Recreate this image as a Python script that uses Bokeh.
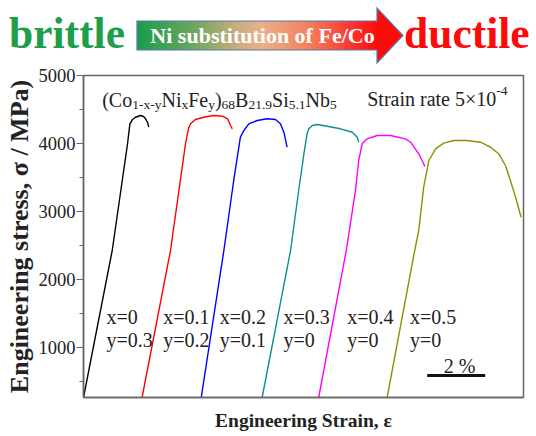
import numpy as np
from bokeh.plotting import figure
from bokeh.layouts import column
from bokeh.models import Range1d, FixedTicker, Div
from bokeh.core.properties import value
from bokeh.embed import file_html
from bokeh.resources import INLINE

# ---------------- data (strain in %, stress in MPa) ----------------
strain_a = [0.00, 0.99, 1.52, 1.60, 1.69, 1.79, 1.97, 2.07, 2.14, 2.21, 2.25]
stress_a = [270, 2429, 4001, 4290, 4354, 4387, 4412, 4398, 4364, 4310, 4241]

strain_b = [2.02, 3.00, 3.52, 3.62, 3.69, 3.86, 4.14, 4.48, 4.79, 4.97, 5.07, 5.13]
stress_b = [270, 2429, 4005, 4221, 4290, 4354, 4387, 4412, 4402, 4364, 4266, 4217]

strain_c = [4.06, 4.84, 5.18, 5.41, 5.53, 5.70, 5.99, 6.33, 6.62, 6.79, 6.91, 7.02]
stress_c = [270, 2429, 3458, 4094, 4192, 4290, 4339, 4364, 4354, 4290, 4167, 3947]

strain_d = [6.16, 7.14, 7.42, 7.60, 7.71, 7.77, 7.89, 8.06, 8.40, 8.86, 9.27, 9.44, 9.49]
stress_d = [270, 2429, 3311, 3850, 4144, 4217, 4266, 4280, 4255, 4217, 4167, 4094, 4020]

strain_e = [8.11, 9.06, 9.38, 9.49, 9.61, 9.78, 10.13, 10.59, 11.10, 11.28, 11.56, 11.73, 11.77]
stress_e = [270, 2429, 3311, 3751, 3997, 4070, 4119, 4119, 4070, 4020, 3850, 3703, 3663]

strain_f = [10.47, 11.42, 11.56, 11.73, 11.91, 12.14, 12.42, 12.77, 13.23, 13.69, 14.03, 14.32, 14.55, 14.72, 14.90, 15.09]
stress_f = [270, 2429, 2723, 3359, 3751, 3923, 4006, 4045, 4045, 4020, 3947, 3850, 3678, 3458, 3212, 2918]

x_labels = ["x=0", "x=0.1", "x=0.2", "x=0.3", "x=0.4", "x=0.5"]
y_labels = ["y=0.3", "y=0.2", "y=0.1", "y=0", "y=0", "y=0"]
series_colors = ["#000000", "#ff0000", "#0000ff", "#0e8f8f", "#ff00ff", "#8f8f00"]

y_ticks = [1000, 2000, 3000, 4000, 5000]
y_minor = [500, 1500, 2500, 3500, 4500]

header_left = "brittle"
header_mid = "Ni substitution of Fe/Co"
header_right = "ductile"

# ---------------- layout helpers (page pixels -> data) ----------------
HEADER_H = 64
PX_PER_PCT = 29.0
FRAME_L, FRAME_R, FRAME_T, FRAME_B = 83, 523, 75, 397
XMAX = (FRAME_R - FRAME_L) / PX_PER_PCT
YMIN, YMAX = 270, 5000
MPA_PER_PX = (YMAX - YMIN) / (FRAME_B - FRAME_T)


def dx(px):
    return (px - FRAME_L) / PX_PER_PCT


def dy(py):
    return YMAX - (py - FRAME_T) * MPA_PER_PX


SERIF = value("Liberation Serif")
W = {"(": 333, ")": 333, "C": 667, "o": 500, "N": 722, "i": 278, "F": 556, "e": 444,
     "B": 667, "S": 556, "b": 500, "-": 333, "x": 500, "y": 500, ".": 250, " ": 250,
     "t": 278, "r": 333, "a": 444, "n": 500, "\u00d7": 564}
for d in "0123456789":
    W[d] = 500


def tw(s, size):
    return sum(W.get(c, 500) for c in s) * size / 1000.0


# ---------------- header (HTML/SVG) ----------------
bl, br, bt, bb = 137, 377, 21, 50
ht, hb, tipx, tipy = 8, 63, 403, 35.5
pts = [(bl, bt), (br, bt), (br, ht), (tipx, tipy), (br, hb), (br, bb), (bl, bb)]
clip = ", ".join("%gpx %gpx" % (x - bl, y - ht) for x, y in pts)
poly = " ".join("%g,%g" % (x, y) for x, y in pts)
grad = ("linear-gradient(to right, #189c4c 0px, #6aa65e 55px, #c9ad80 100px, #eab08a 125px, "
        "#f3825e 170px, #f83a34 212px, #ff0a0a 240px, #ff0a0a 266px)")
fs = "font-family:'Liberation Serif','Times New Roman',serif;font-weight:bold;"
header_html = f"""
<div style="position:relative;width:536px;height:{HEADER_H}px;margin:0;padding:0;background:white;">
  <div style="position:absolute;left:{bl}px;top:{ht}px;width:{tipx - bl}px;height:{hb - ht}px;
       background:{grad};clip-path:polygon({clip});"></div>
  <svg style="position:absolute;left:0;top:0;" width="536" height="{HEADER_H}">
    <polygon points="{poly}" style="fill:none;stroke:#5b7ba6;stroke-width:1.2px;"/>
    <text x="262.5" y="42.5" style="{fs}font-size:22px;fill:#ffffff;text-anchor:middle;">{header_mid}</text>
    <text x="9" y="48" style="{fs}font-size:43.5px;fill:#1c9e4b;">{header_left}</text>
    <text x="404" y="48" style="{fs}font-size:43.5px;fill:#ff0a0a;">{header_right}</text>
  </svg>
</div>
"""
header = Div(text=header_html, width=536, height=HEADER_H, margin=0)

# ---------------- figure ----------------
p = figure(width=536, height=436 - HEADER_H, x_range=Range1d(0, XMAX), y_range=Range1d(YMIN, YMAX),
           output_backend="svg", toolbar_location=None, margin=0,
           min_border_left=FRAME_L, min_border_right=536 - FRAME_R,
           min_border_top=FRAME_T - HEADER_H, min_border_bottom=436 - FRAME_B)
p.xgrid.visible = False
p.ygrid.visible = False
p.outline_line_color = "#666666"
p.outline_line_width = 1.5

p.xaxis.ticker = FixedTicker(ticks=[])
p.xaxis.major_tick_out = 0
p.xaxis.major_tick_in = 0
p.xaxis.minor_tick_out = 0
p.xaxis.minor_tick_in = 0
p.xaxis.axis_line_color = "#666666"
p.xaxis.axis_line_width = 1.5
p.xaxis.axis_label = "Engineering Strain, \u03b5"
p.xaxis.axis_label_text_font = "Liberation Serif"
p.xaxis.axis_label_text_font_style = "bold"
p.xaxis.axis_label_text_font_size = "19.5px"
p.xaxis.axis_label_text_color = "#222222"
p.xaxis.axis_label_standoff = 12

p.yaxis.ticker = FixedTicker(ticks=y_ticks, minor_ticks=y_minor)
p.yaxis.major_tick_out = 7
p.yaxis.major_tick_in = 0
p.yaxis.minor_tick_out = 4
p.yaxis.minor_tick_in = 0
p.yaxis.major_tick_line_color = "#666666"
p.yaxis.minor_tick_line_color = "#666666"
p.yaxis.axis_line_color = "#666666"
p.yaxis.axis_line_width = 1.5
p.yaxis.major_label_text_font = "Liberation Serif"
p.yaxis.major_label_text_font_size = "18.5px"
p.yaxis.major_label_text_color = "#222222"
p.yaxis.major_label_standoff = 1
p.yaxis.axis_label = "Engineering stress, \u03c3 / MPa)"
p.yaxis.axis_label_text_font = "Liberation Serif"
p.yaxis.axis_label_text_font_style = "bold"
p.yaxis.axis_label_text_font_size = "26px"
p.yaxis.axis_label_text_color = "#222222"
p.yaxis.axis_label_standoff = 2

curves = [(strain_a, stress_a), (strain_b, stress_b), (strain_c, stress_c),
          (strain_d, stress_d), (strain_e, stress_e), (strain_f, stress_f)]
for (sx, sy), c in zip(curves, series_colors):
    p.line(sx, sy, line_color=c, line_width=1.4)

# composition labels
lab_px = [106, 162.7, 219.3, 283, 346.7, 409.5]
p.text(x=[dx(v) for v in lab_px], y=[dy(316.5)] * 6, text=x_labels, text_font=SERIF,
       text_font_size=value("20px"), text_color="#222222", text_align="left", text_baseline="alphabetic")
p.text(x=[dx(v) for v in lab_px], y=[dy(339.5)] * 6, text=y_labels, text_font=SERIF,
       text_font_size=value("20px"), text_color="#222222", text_align="left", text_baseline="alphabetic")

# formula with subscripts
F, S = 20.0, 13.5
segments = [("(Co", 0), ("1-x-y", 1), ("Ni", 0), ("x", 1), ("Fe", 0), ("y", 1), (")", 0), ("68", 1),
            ("B", 0), ("21.9", 1), ("Si", 0), ("5.1", 1), ("Nb", 0), ("5", 1)]
cur = 101.7
main_base, sub_base = 99.0, 104.0
mx, my, mt, sx_, sy_, st = [], [], [], [], [], []
for s, sub in segments:
    if sub:
        sx_.append(dx(cur)); sy_.append(dy(sub_base)); st.append(s)
        cur += tw(s, S)
    else:
        mx.append(dx(cur)); my.append(dy(main_base)); mt.append(s)
        cur += tw(s, F)
p.text(x=mx, y=my, text=mt, text_font=SERIF, text_font_size=value("20px"), text_color="#222222",
       text_align="left", text_baseline="alphabetic")
p.text(x=sx_, y=sy_, text=st, text_font=SERIF, text_font_size=value("13.5px"), text_color="#222222",
       text_align="left", text_baseline="alphabetic")

# strain rate
sr_x = 366.7
sr_main = "Strain rate 5\u00d710"
p.text(x=[dx(sr_x)], y=[dy(98.0)], text=[sr_main], text_font=SERIF, text_font_size=value("20px"),
       text_color="#222222", text_align="left", text_baseline="alphabetic")
p.text(x=[dx(sr_x + tw(sr_main, F))], y=[dy(90.5)], text=["-4"], text_font=SERIF,
       text_font_size=value("13.5px"), text_color="#222222", text_align="left", text_baseline="alphabetic")

# 2 % scale bar
bar_left = dx(426.7)
p.segment(x0=[bar_left], y0=[dy(375)], x1=[bar_left + 2.0], y1=[dy(375)], line_color="#111111", line_width=3)
p.text(x=[dx(443.3)], y=[dy(365)], text=["2 %"], text_font=SERIF, text_font_size=value("20px"),
       text_color="#222222", text_align="left", text_baseline="alphabetic")

layout = column(header, p, spacing=0, margin=0)
open("out.html", "w").write(file_html(layout, INLINE))
